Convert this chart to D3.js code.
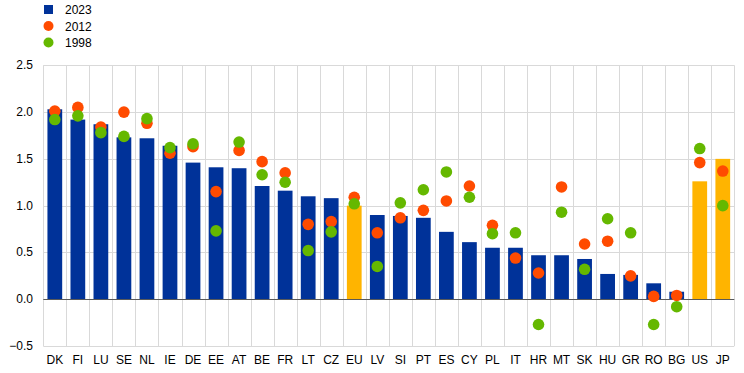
<!DOCTYPE html>
<html>
<head>
<meta charset="utf-8">
<script src="https://cdn.jsdelivr.net/npm/d3@7"></script>
<style>
  body { margin: 0; background: #fff; }
  text { font-family: "Liberation Sans", Arial, sans-serif; font-size: 12px; fill: #000; }
</style>
</head>
<body>
<div id="viz"></div>
<script>
// DATA
var countries = ["DK","FI","LU","SE","NL","IE","DE","EE","AT","BE","FR","LT","CZ","EU","LV","SI","PT","ES","CY","PL","IT","HR","MT","SK","HU","GR","RO","BG","US","JP"];
var v2023 = [2.03,1.92,1.87,1.73,1.72,1.64,1.46,1.41,1.40,1.21,1.16,1.10,1.08,1.00,0.90,0.89,0.87,0.72,0.61,0.55,0.55,0.47,0.47,0.43,0.27,0.26,0.17,0.08,1.26,1.50];
var v2012 = [2.01,2.05,1.84,2.00,1.88,1.56,1.63,1.15,1.59,1.47,1.35,0.80,0.83,1.09,0.71,0.87,0.95,1.05,1.21,0.79,0.44,0.28,1.20,0.59,0.62,0.25,0.03,0.04,1.46,1.37];
var v1998 = [1.92,1.96,1.78,1.74,1.93,1.62,1.66,0.73,1.68,1.33,1.25,0.52,0.72,1.02,0.35,1.03,1.17,1.36,1.09,0.70,0.71,-0.27,0.93,0.32,0.86,0.71,-0.27,-0.08,1.61,1.00];
var highlighted = ["EU","US","JP"];
var yTicks = [-0.5,0,0.5,1,1.5,2,2.5];

(function (d3) {

  var blue = "#003299", orange = "#ffb400", red = "#ff4b00", green = "#65b800";

  var w = 744, h = 373;
  var plotLeft = 43.3, plotRight = 734.3, plotTop = 65.3, plotBottom = 346;

  var svg = d3.select("#viz").append("svg")
    .attr("width", w)
    .attr("height", h);

  var x = d3.scaleBand()
    .domain(countries)
    .range([plotLeft, plotRight])
    .paddingInner(0.36)
    .paddingOuter(0.18);

  var y = d3.scaleLinear()
    .domain([-0.5, 2.5])
    .range([plotBottom, plotTop]);

  // GRID
  var edges = d3.range(countries.length + 1).map(function (i) {
    return plotLeft + i * (plotRight - plotLeft) / countries.length;
  });

  svg.append("g").selectAll("line")
    .data(edges).enter().append("line")
    .attr("x1", function (d) { return Math.round(d) + 0.5; })
    .attr("x2", function (d) { return Math.round(d) + 0.5; })
    .attr("y1", y(2.5)).attr("y2", y(-0.5))
    .attr("stroke", "#d9d9d9").attr("stroke-width", 1);

  svg.append("g").selectAll("line")
    .data(yTicks.filter(function (d) { return d !== 0; })).enter().append("line")
    .attr("x1", plotLeft).attr("x2", plotRight)
    .attr("y1", function (d) { return Math.round(y(d)) + 0.5; })
    .attr("y2", function (d) { return Math.round(y(d)) + 0.5; })
    .attr("stroke", "#d9d9d9").attr("stroke-width", 1);

  // BARS
  svg.append("g").selectAll("rect")
    .data(countries).enter().append("rect")
    .attr("x", function (d) { return x(d); })
    .attr("width", x.bandwidth())
    .attr("y", function (d, i) { return y(Math.max(0, v2023[i])); })
    .attr("height", function (d, i) { return Math.abs(y(v2023[i]) - y(0)); })
    .attr("fill", function (d) { return highlighted.indexOf(d) >= 0 ? orange : blue; });

  // ZERO LINE
  svg.append("line")
    .attr("x1", plotLeft).attr("x2", plotRight)
    .attr("y1", Math.round(y(0)) + 0.5).attr("y2", Math.round(y(0)) + 0.5)
    .attr("stroke", "#595959").attr("stroke-width", 1);

  // DOTS
  function dots(vals, col) {
    svg.append("g").selectAll("circle")
      .data(countries).enter().append("circle")
      .attr("cx", function (d) { return x(d) + x.bandwidth() / 2; })
      .attr("cy", function (d, i) { return y(vals[i]); })
      .attr("r", 5.8)
      .attr("fill", col);
  }
  dots(v2012, red);
  dots(v1998, green);

  // AXIS LABELS
  svg.append("g").selectAll("text")
    .data(yTicks).enter().append("text")
    .attr("x", 33)
    .attr("y", function (d) { return y(d) + 4; })
    .attr("text-anchor", "end")
    .text(function (d) { return d3.format(".1f")(d); });

  svg.append("g").selectAll("text")
    .data(countries).enter().append("text")
    .attr("x", function (d) { return x(d) + x.bandwidth() / 2; })
    .attr("y", 364)
    .attr("text-anchor", "middle")
    .text(function (d) { return d; });

  // LEGEND
  var legend = [
    {label: "2023", color: blue, shape: "rect"},
    {label: "2012", color: red, shape: "circle"},
    {label: "1998", color: green, shape: "circle"}
  ];
  var lg = svg.append("g").selectAll("g")
    .data(legend).enter().append("g")
    .attr("transform", function (d, i) { return "translate(0," + (9.5 + i * 16.5) + ")"; });
  lg.filter(function (d) { return d.shape === "rect"; }).append("rect")
    .attr("x", 44).attr("y", -4.5).attr("width", 9).attr("height", 9)
    .attr("fill", function (d) { return d.color; });
  lg.filter(function (d) { return d.shape === "circle"; }).append("circle")
    .attr("cx", 48.5).attr("cy", 0).attr("r", 5)
    .attr("fill", function (d) { return d.color; });
  lg.append("text")
    .attr("x", 65).attr("y", 4.5)
    .text(function (d) { return d.label; });

})(d3);
</script>
</body>
</html>
